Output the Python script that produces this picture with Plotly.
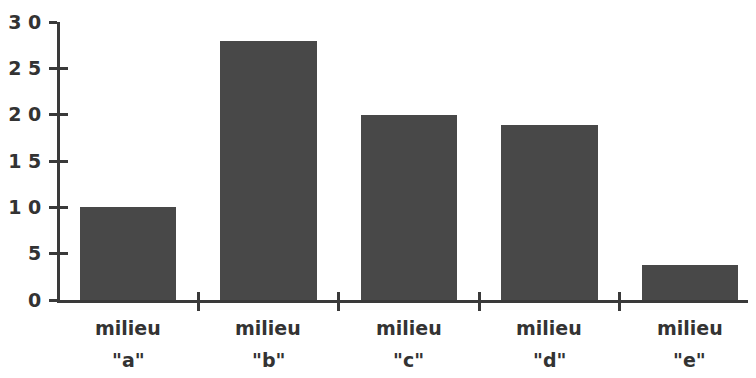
import plotly.graph_objects as go

categories = ["a", "b", "c", "d", "e"]
values = [10, 28, 20, 18.9, 3.8]
y_ticks = [0, 5, 10, 15, 20, 25, 30]
y_tick_labels = ["0", "5", "1 0", "1 5", "2 0", "2 5", "3 0"]
label_word = "milieu"

ink = "#3a3a3a"
bar_color = "#484848"
font = dict(family="DejaVu Sans", size=19, color="#333333", weight="bold")

xs = list(range(len(categories)))
sep_ticks = [i + 0.5 for i in xs[:-1]]

fig = go.Figure()
fig.add_trace(go.Bar(x=xs, y=values, width=0.69, marker=dict(color=bar_color, line=dict(width=0)),
                     showlegend=False, hoverinfo="skip"))
fig.add_trace(go.Scatter(x=[None], y=[None], xaxis="x2", yaxis="y2", showlegend=False))

xcommon = dict(range=[-0.484, 4.47], domain=[0, 1], tickvals=sep_ticks, showgrid=False,
               zeroline=False, ticklen=8, tickwidth=2.5, tickcolor=ink, showticklabels=False,
               automargin=False)
ycommon = dict(range=[0, 30], tickvals=y_ticks, showgrid=False, zeroline=False,
               ticklen=8, tickwidth=2.5, tickcolor=ink, automargin=False)

fig.update_layout(
    width=748, height=370,
    margin=dict(l=52, r=0, t=14, b=78, autoexpand=False),
    paper_bgcolor="white", plot_bgcolor="white",
    bargap=0,
    xaxis=dict(**xcommon, ticks="outside", showline=True, linewidth=3, linecolor=ink),
    xaxis2=dict(**xcommon, ticks="inside", overlaying="x", anchor="y2", showline=False),
    yaxis=dict(**ycommon, ticks="outside", ticktext=y_tick_labels, tickfont=font,
               showline=True, linewidth=3, linecolor=ink, ticklabelstandoff=4),
    yaxis2=dict(**ycommon, ticks="inside", overlaying="y", anchor="x2", showticklabels=False,
                showline=False),
)

for i, c in enumerate(categories):
    fig.add_annotation(x=i, y=0, xref="x", yref="paper", text=label_word, showarrow=False,
                       yanchor="middle", yshift=-28, font=font)
    fig.add_annotation(x=i, y=0, xref="x", yref="paper", text='"' + c + '"', showarrow=False,
                       yanchor="middle", yshift=-60, font=font)

fig.write_html("out.html")
